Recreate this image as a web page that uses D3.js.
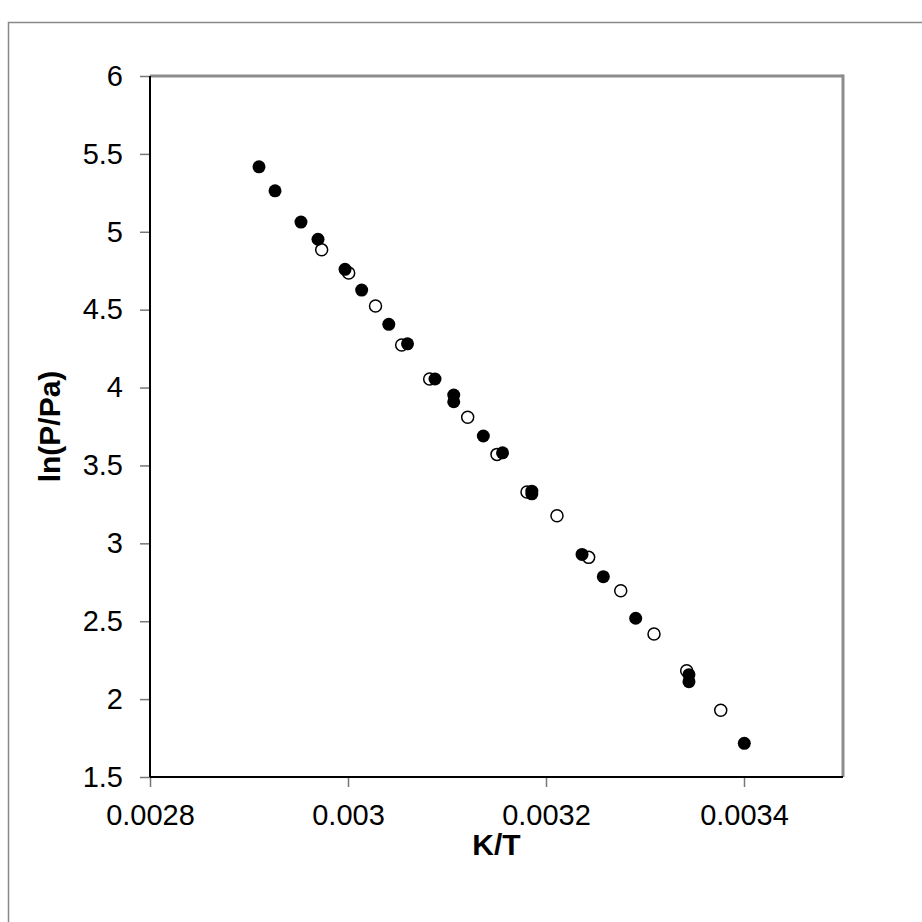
<!DOCTYPE html>
<html>
<head>
  <meta charset="UTF-8">
  <title>ln(P/Pa) vs K/T</title>
  <script src="https://d3js.org/d3.v7.min.js"></script>
  <style>
    body { margin: 0; background: #fff; }
    svg { display: block; }
    .tick-label { font-family: "Liberation Sans", Arial, sans-serif; font-size: 29px; fill: #000; }
    .axis-title { font-family: "Liberation Sans", Arial, sans-serif; font-size: 30px; font-weight: bold; fill: #000; }
  </style>
</head>
<body>
  <svg width="922" height="922"></svg>
  <script>
    // filled markers (series 1)
    const filledX = [0.0029101, 0.0029263, 0.0029525, 0.0029697, 0.0029970, 0.0030138, 0.0030412,
                     0.0030601, 0.0030879, 0.0031068, 0.0031068, 0.0031367, 0.0031561, 0.0031857,
                     0.0031857, 0.0032364, 0.0032579, 0.0032906, 0.0033444, 0.0033444, 0.0034003];
    const filledY = [5.417, 5.263, 5.062, 4.952, 4.759, 4.626, 4.406,
                     4.281, 4.055, 3.952, 3.909, 3.689, 3.581, 3.335,
                     3.318, 2.929, 2.786, 2.519, 2.157, 2.112, 1.716];

    // open markers (series 2)
    const openX = [0.0029734, 0.0030007, 0.0030278, 0.0030542, 0.0030825, 0.0031209, 0.0031505,
                   0.0031808, 0.0032111, 0.0032431, 0.0032755, 0.0033091, 0.0033421, 0.0033765];
    const openY = [4.884, 4.735, 4.523, 4.273, 4.055, 3.809, 3.571,
                   3.329, 3.177, 2.910, 2.696, 2.418, 2.182, 1.928];

    const xTicks = [0.0028, 0.003, 0.0032, 0.0034];
    const xTickLabels = ["0.0028", "0.003", "0.0032", "0.0034"];
    const yTicks = [1.5, 2, 2.5, 3, 3.5, 4, 4.5, 5, 5.5, 6];
    const yTickLabels = ["1.5", "2", "2.5", "3", "3.5", "4", "4.5", "5", "5.5", "6"];

    const svg = d3.select("svg");

    // outer chart frame
    svg.append("rect")
      .attr("x", 8.5).attr("y", 22.5)
      .attr("width", 1000).attr("height", 1000)
      .attr("fill", "none").attr("stroke", "#888").attr("stroke-width", 1.5);

    const pl = 150, pr = 843, pt = 76, pb = 777;

    const x = d3.scaleLinear().domain([0.0028, 0.0035]).range([pl, pr]);
    const y = d3.scaleLinear().domain([1.5, 6]).range([pb, pt]);

    // plot area border: top and right grey
    svg.append("line").attr("x1", pl).attr("x2", pr).attr("y1", pt).attr("y2", pt)
      .attr("stroke", "#8c8c8c").attr("stroke-width", 3);
    svg.append("line").attr("x1", pr).attr("x2", pr).attr("y1", pt - 1.5).attr("y2", pb)
      .attr("stroke", "#8c8c8c").attr("stroke-width", 3);

    // y axis
    const yAxis = svg.append("g")
      .attr("transform", `translate(${pl},0)`)
      .call(d3.axisLeft(y).tickValues(yTicks).tickSize(10).tickPadding(17)
        .tickFormat((d, i) => yTickLabels[i]));
    yAxis.select(".domain").remove();
    yAxis.selectAll(".tick line").attr("stroke", "#777").attr("stroke-width", 1.5);
    yAxis.selectAll(".tick text").attr("class", "tick-label");
    yAxis.attr("font-size", null).attr("font-family", null);

    // x axis
    const xAxis = svg.append("g")
      .attr("transform", `translate(0,${pb})`)
      .call(d3.axisBottom(x).tickValues(xTicks).tickSize(10).tickPadding(17)
        .tickFormat((d, i) => xTickLabels[i]));
    xAxis.select(".domain").remove();
    xAxis.selectAll(".tick line").attr("stroke", "#777").attr("stroke-width", 1.5);
    xAxis.selectAll(".tick text").attr("class", "tick-label");
    xAxis.attr("font-size", null).attr("font-family", null);

    // black axis lines
    svg.append("line").attr("x1", pl).attr("x2", pl).attr("y1", pt).attr("y2", pb)
      .attr("stroke", "#000").attr("stroke-width", 2);
    svg.append("line").attr("x1", pl).attr("x2", pr).attr("y1", pb).attr("y2", pb)
      .attr("stroke", "#000").attr("stroke-width", 2);

    // open markers
    svg.append("g").selectAll("circle")
      .data(openX.map((v, i) => [v, openY[i]]))
      .join("circle")
      .attr("cx", d => x(d[0])).attr("cy", d => y(d[1]))
      .attr("r", 6).attr("fill", "#fff").attr("stroke", "#000").attr("stroke-width", 1.5);

    // filled markers
    svg.append("g").selectAll("circle")
      .data(filledX.map((v, i) => [v, filledY[i]]))
      .join("circle")
      .attr("cx", d => x(d[0])).attr("cy", d => y(d[1]))
      .attr("r", 6.5).attr("fill", "#000");

    // axis titles
    svg.append("text").attr("class", "axis-title")
      .attr("x", (pl + pr) / 2).attr("y", 855)
      .attr("text-anchor", "middle").text("K/T");
    svg.append("text").attr("class", "axis-title")
      .attr("transform", `translate(60,${(pt + pb) / 2}) rotate(-90)`)
      .attr("text-anchor", "middle").text("ln(P/Pa)");
  </script>
</body>
</html>
